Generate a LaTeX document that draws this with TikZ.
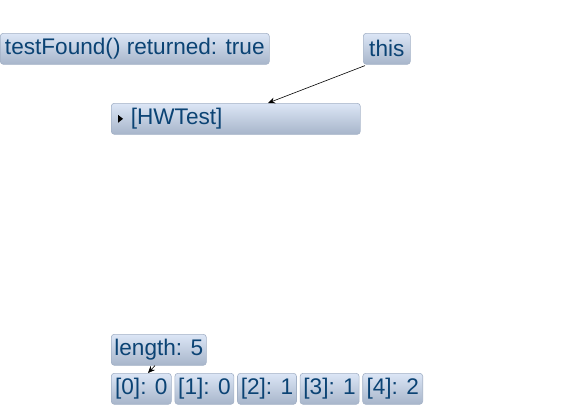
\documentclass[tikz,border=0pt]{standalone}
\usepackage{fontspec}
\setmainfont{Liberation Sans}
\usepackage{tikz}
\usetikzlibrary{positioning,arrows.meta}
\definecolor{boxtop}{HTML}{DCE6F6}
\definecolor{boxbot}{HTML}{A7B5CA}
\definecolor{boxedge}{HTML}{A3B1C6}
\definecolor{boxtext}{HTML}{0B4374}

\begin{document}
\begin{tikzpicture}[
  x=1pt, y=-1pt,
  node distance=3pt,
  objbox/.style={draw=boxedge, line width=0.6pt, rounded corners=3pt, top color=boxtop, bottom color=boxbot,
    text=boxtext, font=\fontsize{22.6}{26}\selectfont, inner sep=0pt, minimum height=31pt, anchor=north west},
  cellbox/.style={objbox, minimum width=59pt},
  arr/.style={-{Stealth[length=7pt,width=6pt]}, semithick}
]
\useasboundingbox (0,0) rectangle (569,405);
\node[objbox, minimum width=269pt] (ret) at (0,33) {testFound() returned: true};
\node[objbox, minimum width=47pt] (this) at (363,33) {this};
\node[objbox, minimum width=249pt, text width=238pt, align=left, inner xsep=0pt] (hw) at (111,103) {\hspace*{14pt}[HWTest]};
\fill[black] ([xshift=7pt,yshift=-4pt]hw.west) -- ([xshift=7pt,yshift=4pt]hw.west) -- ([xshift=12pt]hw.west) -- cycle;
\node[objbox, minimum width=95pt] (len) at (111,334) {length: 5};
\node[cellbox, minimum width=60pt] (c0) at (111,373) {[0]: 0};
\node[cellbox, right=of c0.north east, anchor=north west] (c1) {[1]: 0};
\node[cellbox, right=of c1.north east, anchor=north west] (c2) {[2]: 1};
\node[cellbox, right=of c2.north east, anchor=north west] (c3) {[3]: 1};
\node[cellbox, minimum width=60pt, right=of c3.north east, anchor=north west] (c4) {[4]: 2};
\draw[arr] ([xshift=2pt,yshift=-1pt]this.south west) -- ([xshift=157pt]hw.north west);
\draw[arr] ([xshift=44pt]len.south west) -- ([xshift=37pt]c0.north west);
\end{tikzpicture}
\end{document}
